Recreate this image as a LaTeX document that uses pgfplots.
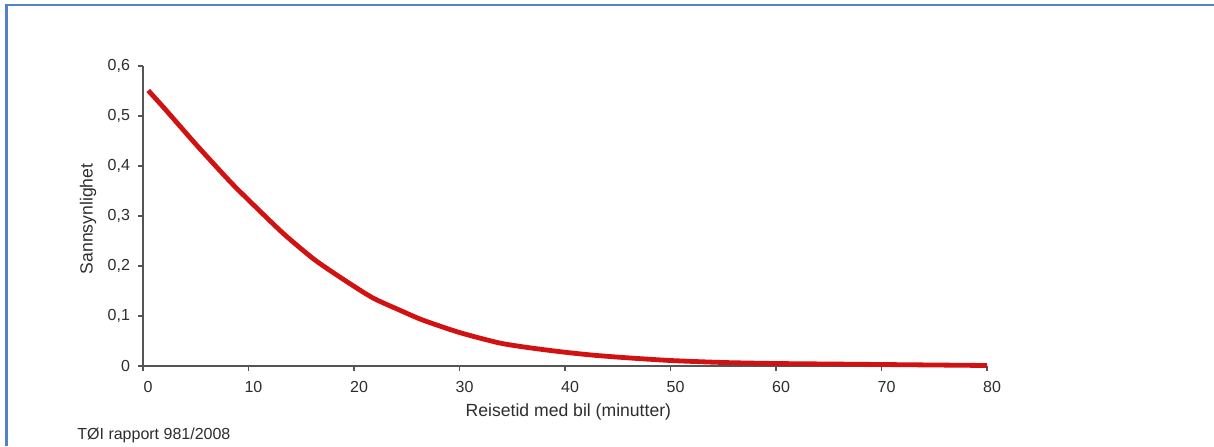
\documentclass[border=0pt]{standalone}
\usepackage{fontspec}
\setmainfont{Liberation Sans}
\usepackage{pgfplots}
\pgfplotsset{compat=1.18}
\definecolor{frameblue}{RGB}{84,130,200}
\definecolor{curvered}{RGB}{208,18,18}
\definecolor{txt}{RGB}{45,45,45}
\definecolor{axgray}{RGB}{85,85,85}
\begin{document}
\begin{tikzpicture}
\useasboundingbox (0,0) rectangle (607pt,223pt);
\draw[frameblue, line width=1.3pt] (3.3pt,0) -- (3.3pt,220.5pt) -- (607pt,220.5pt);
\begin{axis}[
  at={(71.5pt,40pt)}, anchor=south west,
  scale only axis, width=422pt, height=150pt,
  xmin=0, xmax=80, ymin=0, ymax=0.6,
  axis x line*=bottom, axis y line*=left,
  axis line style={axgray, line width=0.7pt},
  every tick/.style={axgray, line width=0.6pt},
  tick align=outside, major tick length=2.5pt,
  xtick={0,10,...,80},
  ytick={0,0.1,0.2,0.3,0.4,0.5,0.6},
  /pgf/number format/assume math mode=true,
  /pgf/number format/.cd, use comma, fixed, precision=1,
  /pgfplots/.cd,
  tick label style={font=\fontsize{8}{9.6}\selectfont, text=txt},
  xticklabel style={yshift=-1.5pt, xshift=2.5pt},
  yticklabel style={xshift=-0.5pt},
  xlabel={Reisetid med bil (minutter)},
  ylabel={Sannsynlighet},
  label style={font=\fontsize{8.8}{10.5}\selectfont, text=txt},
  xlabel style={at={(axis description cs:0.504,-0.153)}, anchor=center},
  ylabel style={at={(axis description cs:-0.0652,0.49)}, anchor=center},
  clip=false,
]
\addplot[curvered, line width=2.4pt, smooth, tension=0.4] coordinates {
(0.5,0.551) (2,0.516) (3.2,0.487) (5.2,0.439) (8.2,0.370) (10,0.332)
(13.3,0.265) (16.3,0.212) (19.3,0.169) (21.8,0.136) (24.3,0.112)
(26.5,0.092) (30,0.067) (33.8,0.046) (36.8,0.036) (39.8,0.028) (42.5,0.022)
(45.5,0.017) (50,0.011) (55,0.007) (60,0.005) (65,0.004) (70,0.003)
(75,0.002) (80,0.001)
};
\end{axis}
\node[anchor=west, inner sep=0pt, text=txt, font=\fontsize{8}{9.6}\selectfont] at (38.5pt,5.5pt) {TØI rapport 981/2008};
\end{tikzpicture}
\end{document}
